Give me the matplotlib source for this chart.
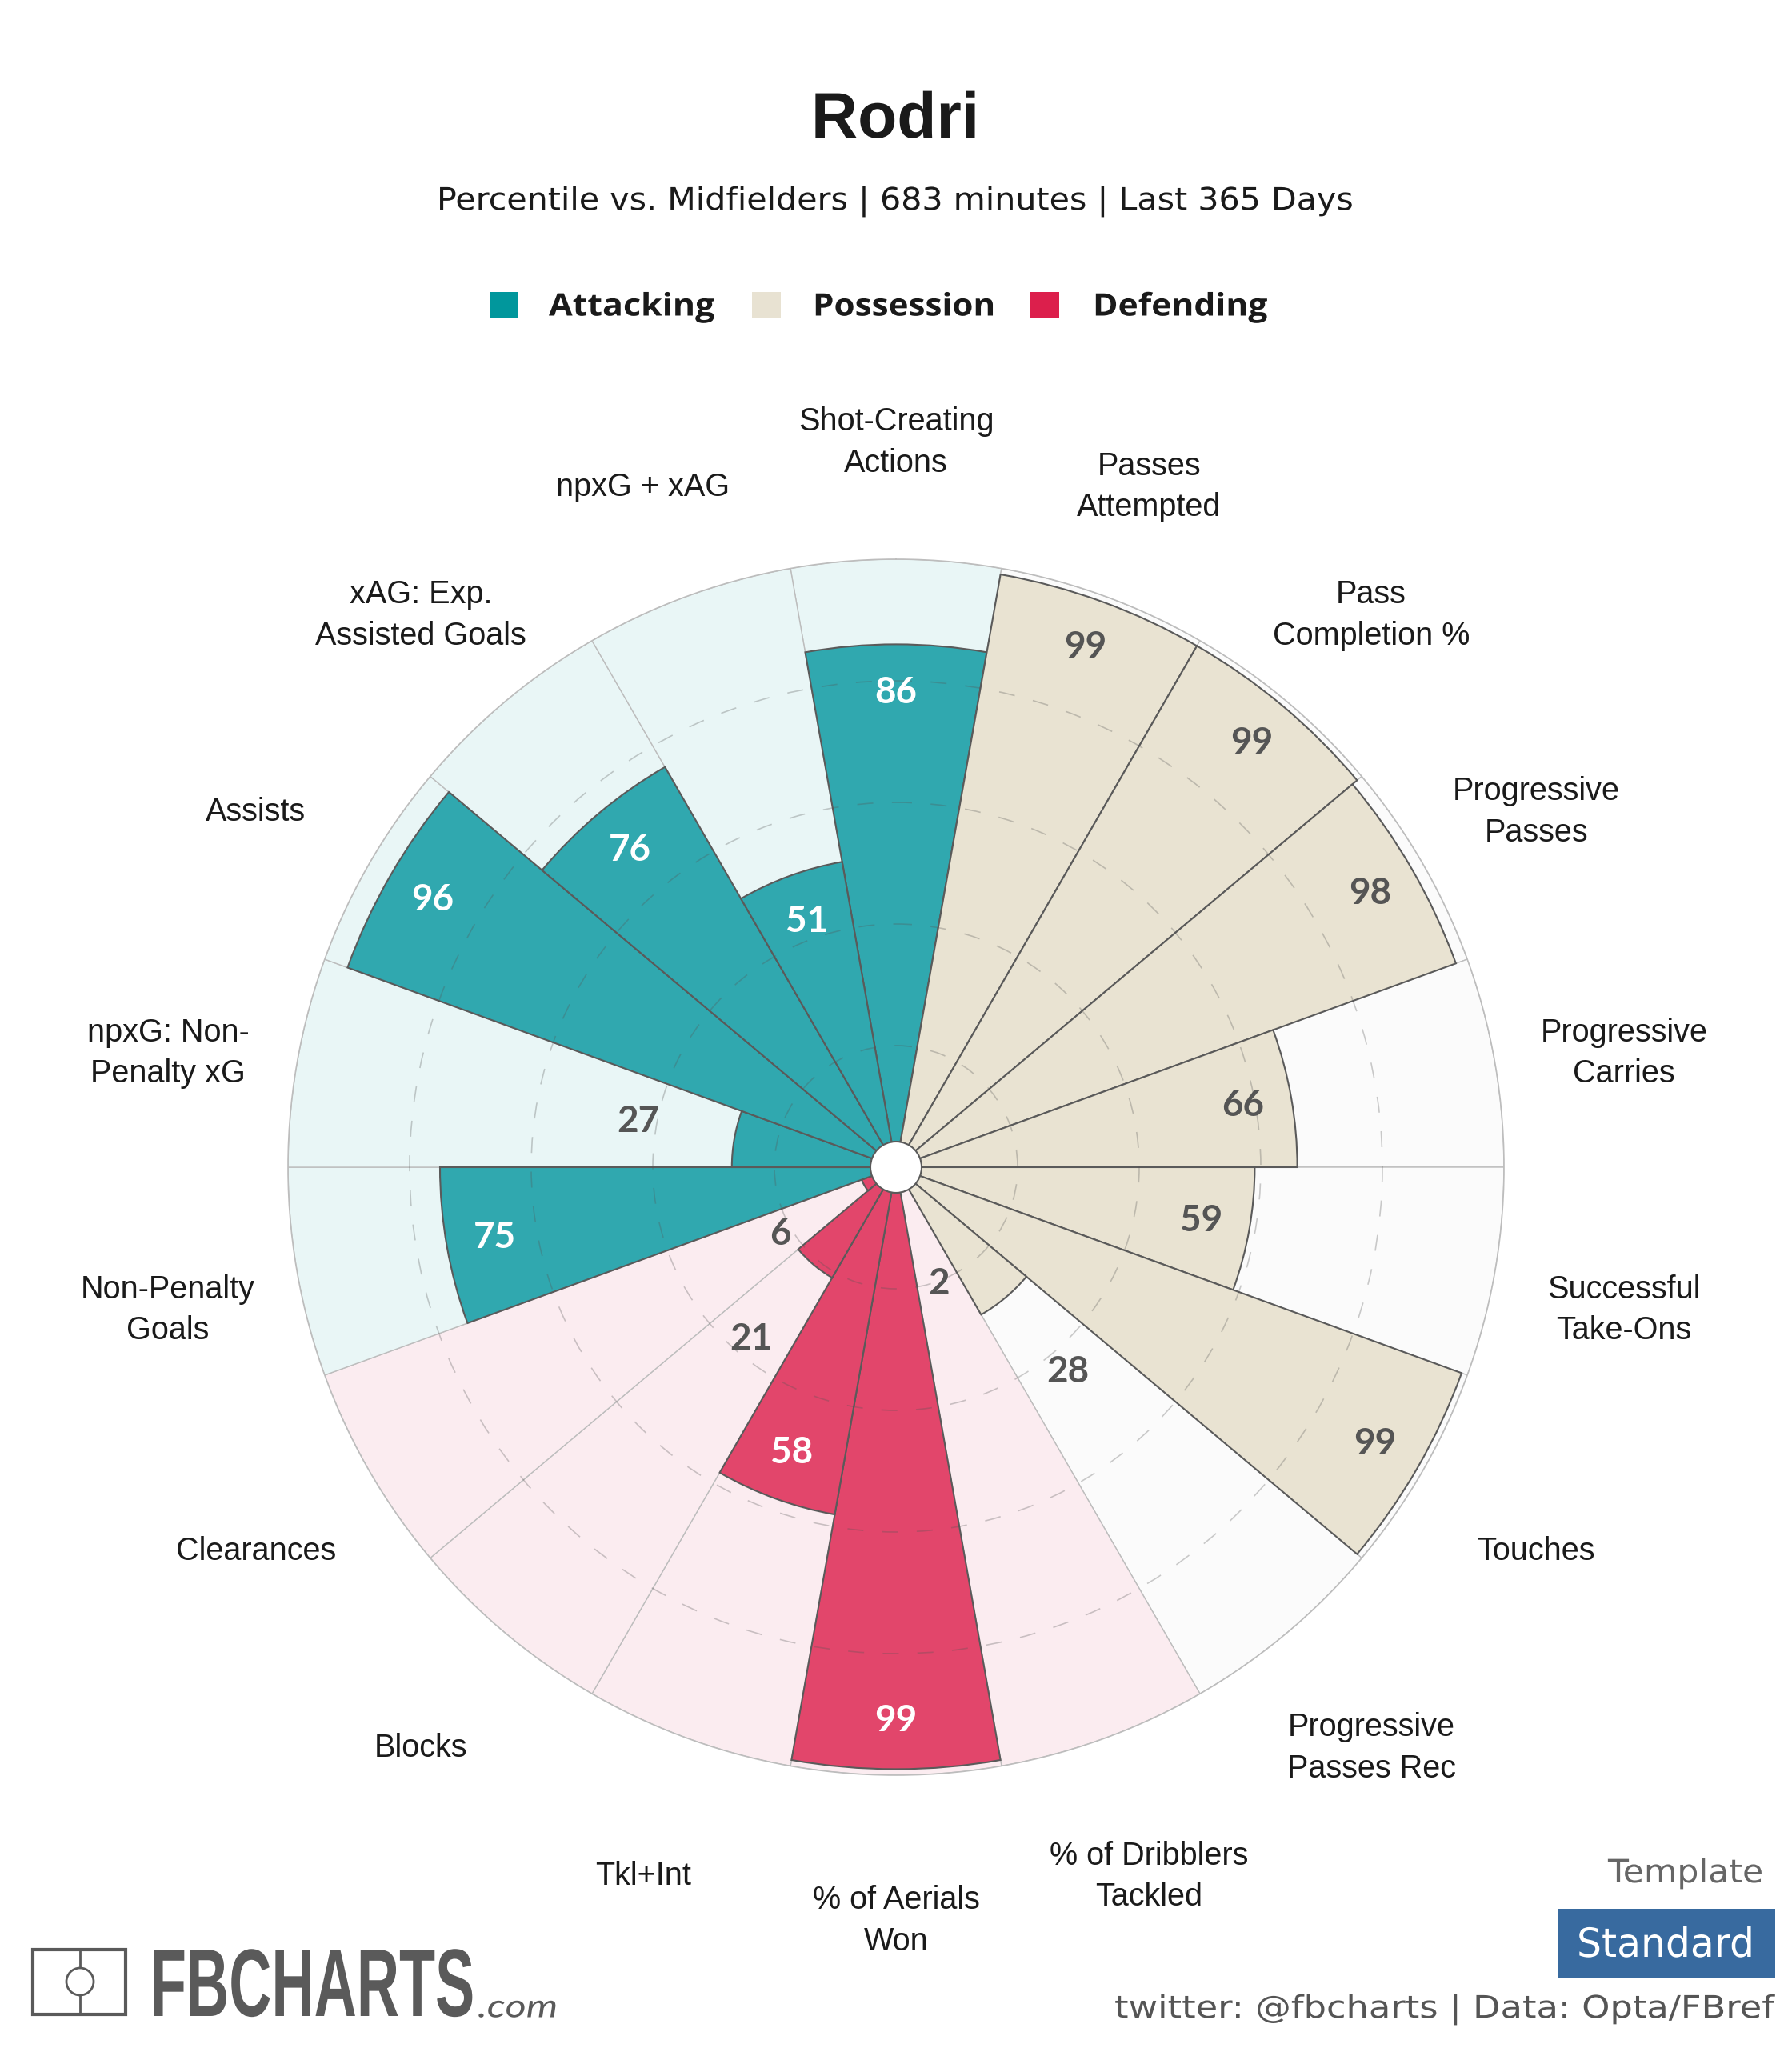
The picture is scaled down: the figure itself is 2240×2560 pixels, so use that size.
import numpy as np
import matplotlib
matplotlib.use("Agg")
import matplotlib.pyplot as plt
from matplotlib.patches import Rectangle, Circle
from matplotlib.patheffects import AbstractPathEffect
from matplotlib.transforms import Affine2D, Bbox

W, H = 2240, 2560
plt.rcParams['font.family'] = ['Liberation Sans', 'DejaVu Sans']

player = "Rodri"
subtitle = "Percentile vs. Midfielders | 683 minutes | Last 365 Days"
categories = ["Shot-Creating\nActions", "Passes\nAttempted", "Pass\nCompletion %",
              "Progressive\nPasses", "Progressive\nCarries", "Successful\nTake-Ons",
              "Touches", "Progressive\nPasses Rec", "% of Dribblers\nTackled",
              "% of Aerials\nWon", "Tkl+Int", "Blocks", "Clearances",
              "Non-Penalty\nGoals", "npxG: Non-\nPenalty xG", "Assists",
              "xAG: Exp.\nAssisted Goals", "npxG + xAG"]
values = [86, 99, 99, 98, 66, 59, 99, 28, 2, 99, 58, 21, 6, 75, 27, 96, 76, 51]
groups = ["A", "P", "P", "P", "P", "P", "P", "P", "D", "D", "D", "D", "D", "A", "A", "A", "A", "A"]
group_names = {"A": "Attacking", "P": "Possession", "D": "Defending"}
legend_colors = {"A": "#01979C", "P": "#E8E2D2", "D": "#DC1F4C"}
bar_colors = {"A": "#30A8AF", "P": "#E9E3D2", "D": "#E2466B"}
bg_colors = {"A": "#E9F6F6", "P": "#FBFBFB", "D": "#FBECF0"}


class Stretch(AbstractPathEffect):
    """Draw a text's outline scaled about its baseline origin."""
    def __init__(self, sx, sy=1.0):
        super().__init__()
        self.sx, self.sy = sx, sy

    def draw_path(self, renderer, gc, tpath, affine, rgbFace=None):
        renderer.draw_path(gc, tpath, Affine2D().scale(self.sx, self.sy) + affine, rgbFace)


fig = plt.figure(figsize=(W / 100, H / 100), dpi=100, facecolor="white")
renderer = fig.canvas.get_renderer()
cx, cy, R = 1120, 1459, 760
ax = fig.add_axes([(cx - R) / W, 1 - (cy + R) / H, 2 * R / W, 2 * R / H], projection="polar")
ax.set_theta_zero_location("N")
ax.set_theta_direction(-1)
ax.set_ylim(0, 100)
theta = np.deg2rad(np.arange(len(values)) * 360 / len(values))
width = 2 * np.pi / len(values)

ax.bar(theta, [100] * len(values), width=width, color=[bg_colors[g] for g in groups],
       edgecolor="#BDBDBD", linewidth=1.0, zorder=1)
ax.bar(theta, values, width=width, color=[bar_colors[g] for g in groups],
       edgecolor="#5A5A5A", linewidth=1.5, zorder=2)

ax.set_rgrids([20, 40, 60, 80], labels=[])
ax.set_thetagrids([])
ax.set_axisbelow(False)
ax.yaxis.grid(True, color="#555555", alpha=0.3, linewidth=1.2, linestyle=(0, (12, 14)), zorder=3)
ax.spines["polar"].set_color("#BDBDBD")
ax.spines["polar"].set_linewidth(1.2)
ax.tick_params(length=0)

for t, v, g, c in zip(theta, values, groups, categories):
    inside = v >= 50
    rr = v - 8 if inside else max(v + 16, 20.5)
    col = "white" if (inside and g != "P") else "#555555"
    ax.text(t, rr, str(v), ha="center", va="center", color=col, fontsize=33,
            family="Lato", fontweight="bold", zorder=5)
    ax.annotate(c, xy=(t, 121.6), xytext=(0, -13), textcoords="offset points",
                ha="center", va="center", fontsize=28.5, color="#1A1A1A",
                linespacing=1.45, annotation_clip=False, zorder=5)

ov = fig.add_axes([0, 0, 1, 1], facecolor="none")
ov.set_xlim(0, W)
ov.set_ylim(H, 0)
ov.axis("off")
ov.add_patch(Circle((cx, cy), 32, facecolor="white", edgecolor="#5A5A5A", linewidth=1.5))


def fit(x0, x1, y, s, va="center", sy=1.0, **k):
    """Real text spanning pixel columns x0..x1 at height y."""
    t = ov.text(x0, y, s, ha="left", va=va, **k)
    b = t.get_window_extent(renderer)
    sx = (x1 - x0) / b.width
    t.set_path_effects([Stretch(sx, sy)])
    t.get_window_extent = lambda renderer=None, dpi=None: Bbox.from_extents(b.x0, b.y0, b.x0 + b.width * sx, b.y1)
    return t


fit(1014, 1224, 151, player, fontsize=58, fontweight="bold", family="Liberation Sans", color="#1A1A1A")
fit(546, 1691, 252, subtitle, fontsize=28, family="DejaVu Sans", color="#1A1A1A")

swatch_x = [612, 940, 1288]
label_spans = [(686, 893), (1016, 1244), (1366, 1584)]
for g, sx, (l0, l1) in zip(["A", "P", "D"], swatch_x, label_spans):
    ov.add_patch(Rectangle((sx, 365), 36, 33, facecolor=legend_colors[g], edgecolor="none"))
    fit(l0, l1, 384, group_names[g], fontsize=28, fontweight="bold",
        family="Open Sans", color="#1A1A1A")

# logo
c = "#5A5A5A"
ov.add_patch(Rectangle((41, 2437), 116, 81, facecolor="none", edgecolor=c, linewidth=3))
ov.plot([100, 100], [2437, 2518], color=c, lw=2)
ov.add_patch(Circle((100, 2477), 17, facecolor="white", edgecolor=c, linewidth=2, zorder=5))
fit(188, 593, 2520, "FBCHARTS", va="baseline", sy=1.6, fontsize=54, fontweight="bold",
    family="Liberation Sans", color=c)
fit(597, 697, 2510, ".com", fontsize=29, family="Lato", style="italic", color=c)

fit(2010, 2204, 2342, "Template", fontsize=29, family="DejaVu Sans", color="#666666")
ov.add_patch(Rectangle((1947, 2386), 272, 87, facecolor="#386A9F", edgecolor="none"))
fit(1971, 2193, 2432, "Standard", fontsize=36, family="DejaVu Sans", color="white")
fit(1393, 2217, 2512, "twitter: @fbcharts | Data: Opta/FBref", fontsize=28,
    family="DejaVu Sans", color="#555555")

fig.savefig("out.png", dpi=100)
